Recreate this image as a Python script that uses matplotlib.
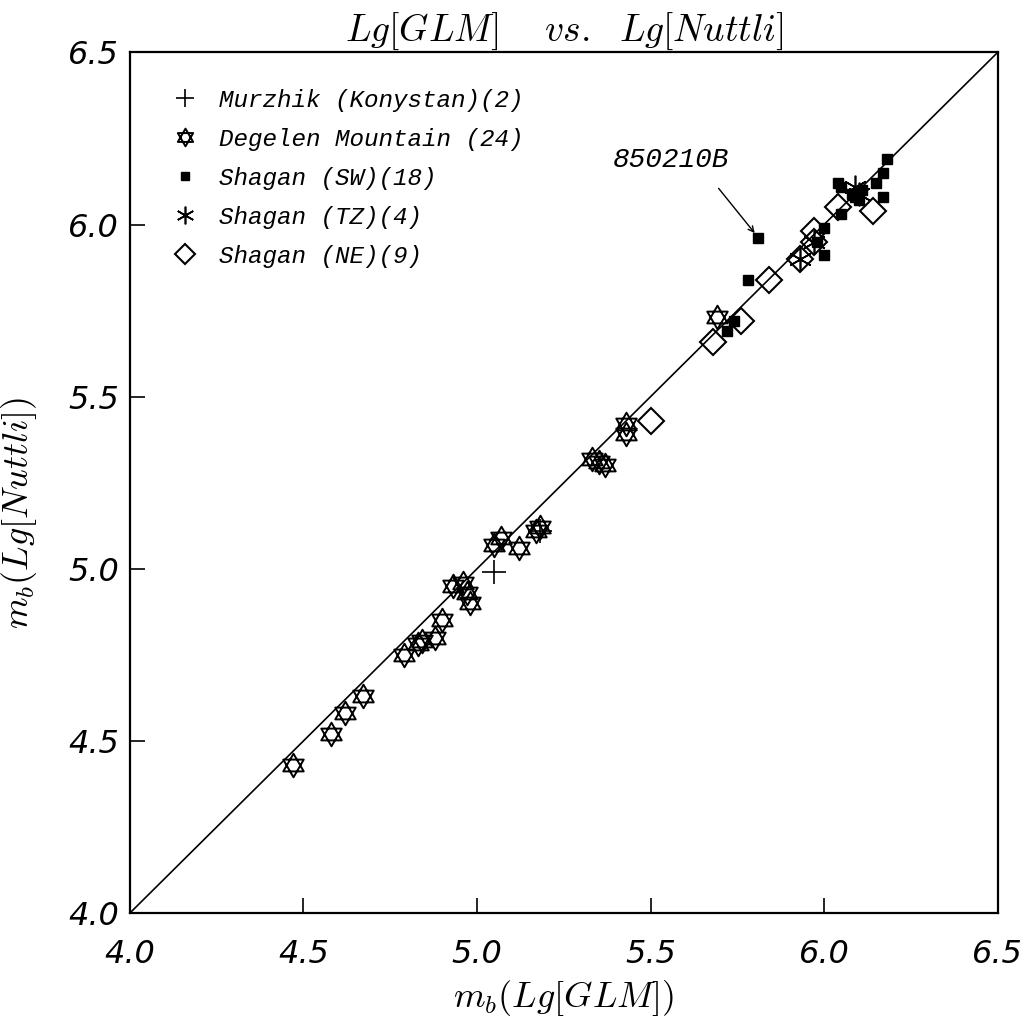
import numpy as np
import matplotlib
matplotlib.use('Agg')
import matplotlib.pyplot as plt
from matplotlib.path import Path

plt.rcParams['mathtext.fontset'] = 'cm'

# Murzhik (Konystan)
murzhik_x = [5.05, 5.18]
murzhik_y = [4.99, 5.11]

# Degelen Mountain
degelen_x = [4.47, 4.58, 4.62, 4.67, 4.79, 4.83, 4.84, 4.88, 4.90, 4.93, 4.96, 4.97,
             4.98, 5.05, 5.07, 5.12, 5.17, 5.18, 5.33, 5.35, 5.37, 5.43, 5.43, 5.69]
degelen_y = [4.43, 4.52, 4.58, 4.63, 4.75, 4.78, 4.79, 4.80, 4.85, 4.95, 4.96, 4.93,
             4.90, 5.07, 5.09, 5.06, 5.11, 5.12, 5.32, 5.31, 5.30, 5.42, 5.39, 5.73]

# Shagan SW
sw_x = [5.81, 5.78, 5.74, 5.72, 5.98, 6.00, 6.00, 6.05, 6.04, 6.05, 6.17, 6.15,
        6.17, 6.18, 6.09, 6.10, 6.11, 6.08]
sw_y = [5.96, 5.84, 5.72, 5.69, 5.95, 5.99, 5.91, 6.03, 6.12, 6.11, 6.08, 6.12,
        6.15, 6.19, 6.08, 6.07, 6.10, 6.09]

# Shagan TZ
tz_x = [5.93, 5.97, 6.10, 6.09]
tz_y = [5.90, 5.95, 6.09, 6.11]

# Shagan NE
ne_x = [5.50, 5.68, 5.76, 5.84, 5.93, 5.97, 5.97, 6.04, 6.14]
ne_y = [5.43, 5.66, 5.72, 5.84, 5.90, 5.98, 5.95, 6.05, 6.04]

# star of David marker: two overlapping triangles
ang_up = np.deg2rad([90, 210, 330])
ang_dn = np.deg2rad([270, 30, 150])
verts = []
codes = []
for angs in (ang_up, ang_dn):
    pts = [(np.cos(a), np.sin(a)) for a in angs]
    verts += pts + [pts[0]]
    codes += [Path.MOVETO, Path.LINETO, Path.LINETO, Path.CLOSEPOLY]
hexagram = Path(verts, codes)

txt_font = {'family': 'Liberation Mono', 'style': 'italic'}

fig = plt.figure(figsize=(10.33, 10.27), dpi=100)
ax = fig.add_axes([0.1258, 0.111, 0.840, 0.838])

ax.plot([4.0, 6.5], [4.0, 6.5], color='black', lw=1.2, zorder=1)

ax.plot(murzhik_x, murzhik_y, ls='none', marker='+', ms=17, mew=1.2, color='black',
        label='Murzhik (Konystan)(2)', zorder=3)
ax.plot(degelen_x, degelen_y, ls='none', marker=hexagram, ms=17, mew=1.4,
        mfc='none', mec='black', label='Degelen Mountain (24)', zorder=3)
ax.plot(sw_x, sw_y, ls='none', marker='s', ms=7, color='black',
        label='Shagan (SW)(18)', zorder=4)
ax.plot(tz_x, tz_y, ls='none', marker=(6, 2, 0), ms=17, mew=1.2, color='black',
        label='Shagan (TZ)(4)', zorder=4)
ax.plot(ne_x, ne_y, ls='none', marker='D', ms=13, mew=1.5, mfc='none', mec='black',
        label='Shagan (NE)(9)', zorder=2)

# label for the outlier event
ax.text(5.39, 6.166, '850210B', fontsize=20, va='baseline', **txt_font)
ax.annotate('', xy=(5.80, 5.975), xytext=(5.696, 6.105),
            arrowprops=dict(arrowstyle='->', color='black', lw=1.0,
                            shrinkA=0, shrinkB=0))

ax.set_xlim(4.0, 6.5)
ax.set_ylim(4.0, 6.5)
ax.set_xticks([4.0, 4.5, 5.0, 5.5, 6.0, 6.5])
ax.set_yticks([4.0, 4.5, 5.0, 5.5, 6.0, 6.5])
ax.tick_params(direction='in', length=11, width=1.2, labelsize=23)
ax.tick_params(axis='x', pad=19)
ax.tick_params(axis='y', pad=8)
for lab in ax.get_xticklabels() + ax.get_yticklabels():
    lab.set_fontstyle('oblique')
for sp in ax.spines.values():
    sp.set_linewidth(1.6)

ax.set_title(r'$Lg[GLM]\ \ \ \ vs.\ \ Lg[Nuttli]$', fontsize=27, pad=8)
ax.set_xlabel(r'$m_b(Lg[GLM])$', fontsize=26)
ax.set_ylabel(r'$m_b(Lg[Nuttli])$', fontsize=26)
ax.xaxis.set_label_coords(0.5, -0.075)
ax.yaxis.set_label_coords(-0.105, 0.465)

leg = ax.legend(loc='upper left', bbox_to_anchor=(0.0495, 0.958), frameon=False,
                handlelength=1.0, handletextpad=0.9, labelspacing=0.66,
                borderaxespad=0.0, borderpad=0.0, markerscale=0.75,
                prop={'family': 'Liberation Mono', 'style': 'italic', 'size': 17.5})

fig.savefig('out.png', dpi=100)
